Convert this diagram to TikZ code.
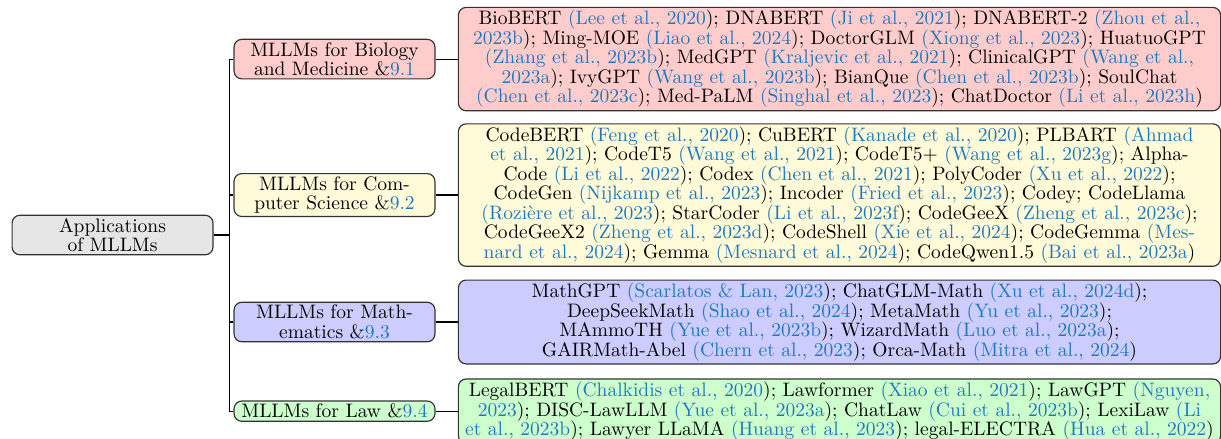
\documentclass[tikz,border=0pt]{standalone}
\usepackage{xcolor}
\usetikzlibrary{positioning}
\definecolor{citeblue}{RGB}{31,120,190}
\definecolor{rootfill}{RGB}{230,230,230}
\definecolor{biofill}{RGB}{255,204,204}
\definecolor{csfill}{RGB}{255,250,215}
\definecolor{mathfill}{RGB}{204,204,255}
\definecolor{lawfill}{RGB}{204,255,204}
\newcommand{\cb}[1]{\textcolor{citeblue}{#1}}

\begin{document}
\begin{tikzpicture}[
            box/.style={rectangle, draw=black!80, line width=0.6pt, rounded corners=4pt, align=center, inner xsep=2pt, inner ysep=1.5pt, font=\fontsize{10}{10}\selectfont},
            cat/.style={box, text width=99pt},
            leaf/.style={box, text width=386.8pt},
            link/.style={line width=0.6pt}
        ]

            \useasboundingbox (0pt,0pt) rectangle (626pt,-225pt);

            \node[cat, fill=rootfill] (root) at (57.7pt,-120.5pt) {Applications\\of MLLMs};

            \node[cat, fill=biofill] (bio) at (171.5pt,-30.3pt) {MLLMs for Biology\\and Medicine \&\cb{9.1}};
            \node[cat, fill=csfill] (cs) at (171.5pt,-100pt) {MLLMs for Com-\\puter Science \&\cb{9.2}};
            \node[cat, fill=mathfill] (math) at (171.5pt,-165.1pt) {MLLMs for Math-\\ematics \&\cb{9.3}};
            \node[cat, fill=lawfill] (law) at (171.5pt,-210.8pt) {MLLMs for Law \&\cb{9.4}};

            \node[leaf, fill=biofill, right=11.4pt of bio] (biolist) {BioBERT \cb{(Lee et al., 2020}); DNABERT \cb{(Ji et al., 2021}); DNABERT-2 \cb{(Zhou et al.,}\\
                \cb{2023b}); Ming-MOE \cb{(Liao et al., 2024}); DoctorGLM \cb{(Xiong et al., 2023}); HuatuoGPT\\
                \cb{(Zhang et al., 2023b}); MedGPT \cb{(Kraljevic et al., 2021}); ClinicalGPT \cb{(Wang et al.,}\\
                \cb{2023a}); IvyGPT \cb{(Wang et al., 2023b}); BianQue \cb{(Chen et al., 2023b}); SoulChat\\
                \cb{(Chen et al., 2023c}); Med-PaLM \cb{(Singhal et al., 2023}); ChatDoctor \cb{(Li et al., 2023h})};

            \node[leaf, fill=csfill, right=11.4pt of cs] (cslist) {CodeBERT \cb{(Feng et al., 2020}); CuBERT \cb{(Kanade et al., 2020}); PLBART \cb{(Ahmad}\\
                \cb{et al., 2021}); CodeT5 \cb{(Wang et al., 2021}); CodeT5+ \cb{(Wang et al., 2023g}); Alpha-\\
                Code \cb{(Li et al., 2022}); Codex \cb{(Chen et al., 2021}); PolyCoder \cb{(Xu et al., 2022});\\
                CodeGen \cb{(Nijkamp et al., 2023}); Incoder \cb{(Fried et al., 2023}); Codey; CodeLlama\\
                \cb{(Rozi\`ere et al., 2023}); StarCoder \cb{(Li et al., 2023f}); CodeGeeX \cb{(Zheng et al., 2023c});\\
                CodeGeeX2 \cb{(Zheng et al., 2023d}); CodeShell \cb{(Xie et al., 2024}); CodeGemma \cb{(Mes-}\\
                \cb{nard et al., 2024}); Gemma \cb{(Mesnard et al., 2024}); CodeQwen1.5 \cb{(Bai et al., 2023a})};

            \node[leaf, fill=mathfill, right=11.4pt of math] (mathlist) {MathGPT \cb{(Scarlatos \& Lan, 2023}); ChatGLM-Math \cb{(Xu et al., 2024d});\\
                DeepSeekMath \cb{(Shao et al., 2024}); MetaMath \cb{(Yu et al., 2023});\\
                MAmmoTH \cb{(Yue et al., 2023b}); WizardMath \cb{(Luo et al., 2023a});\\
                GAIRMath-Abel \cb{(Chern et al., 2023}); Orca-Math \cb{(Mitra et al., 2024})};

            \node[leaf, fill=lawfill, right=11.4pt of law] (lawlist) {LegalBERT \cb{(Chalkidis et al., 2020}); Lawformer \cb{(Xiao et al., 2021}); LawGPT \cb{(Nguyen,}\\
                \cb{2023}); DISC-LawLLM \cb{(Yue et al., 2023a}); ChatLaw \cb{(Cui et al., 2023b}); LexiLaw \cb{(Li}\\
                \cb{et al., 2023b}); Lawyer LLaMA \cb{(Huang et al., 2023}); legal-ELECTRA \cb{(Hua et al., 2022})};

            % tree connectors
            \foreach \c in {bio, cs, math, law} {
                \draw[link] (root.east) -- ++(8.2pt,0) |- (\c.west);
                \draw[link] (\c.east) -- (\c list.west);
            }

        \end{tikzpicture}
\end{document}
